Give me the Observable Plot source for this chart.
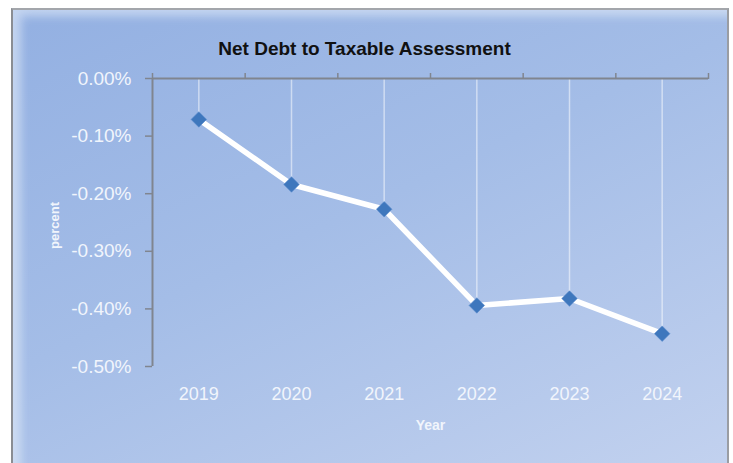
<!DOCTYPE html>
<html>
<head>
<meta charset="utf-8">
<script src="https://cdn.jsdelivr.net/npm/d3@7"></script>
<script src="https://cdn.jsdelivr.net/npm/@observablehq/plot@0.6"></script>
<style>
  html, body { margin: 0; padding: 0; background: #ffffff; }
  #wrap { position: relative; width: 733px; height: 463px; overflow: hidden; }
  #frame {
    position: absolute; left: 11px; top: 8px; width: 714px; height: 470px;
    border-left: 2px solid #8a8d93; border-top: 2px solid #a3a6ab; border-right: 2px solid #9a9da3;
    background: linear-gradient(155deg, #93b0e2 0%, #a4bde7 45%, #c3d2ef 100%);
    box-shadow: inset 12px 10px 10px -4px rgba(235,242,252,0.55);
  }
  #chart { position: absolute; left: 0; top: 0; }
</style>
</head>
<body>
<div id="wrap"><div id="frame"></div><div id="chart"></div></div>
<script>
const title = "Net Debt to Taxable Assessment";
const years = [2019, 2020, 2021, 2022, 2023, 2024];
const values = [-0.071, -0.184, -0.227, -0.394, -0.382, -0.443]; // percent
const yTicks = [0, -0.1, -0.2, -0.3, -0.4, -0.5];
const xTitle = "Year";
const yTitle = "percent";

const data = years.map((year, i) => ({year, value: values[i]}));
const xDomain = [years[0] - 0.5, years[years.length - 1] + 0.5];
const bounds = d3.range(xDomain[0], xDomain[1] + 0.01, 1);

const axisGray = "#80858f";
const textColor = "#f1f5fc";

const plot = Plot.plot({
  width: 733,
  height: 463,
  marginTop: 78,
  marginBottom: 97,
  marginLeft: 152,
  marginRight: 25,
  style: {background: "transparent", fontFamily: "Liberation Sans, Arial, sans-serif", fontSize: "18px", overflow: "visible"},
  x: {type: "linear", domain: xDomain},
  y: {domain: [-0.5, 0]},
  marks: [
    Plot.ruleX(data, {x: "year", y1: 0, y2: "value", stroke: "#ffffff", strokeOpacity: 0.5, strokeWidth: 1.5}),
    Plot.ruleY([0], {stroke: axisGray, strokeWidth: 2}),
    Plot.ruleX([xDomain[0]], {stroke: axisGray, strokeWidth: 2}),
    Plot.axisX({anchor: "top", ticks: bounds, tickFormat: () => "", tickSize: 6, stroke: axisGray, strokeWidth: 1.5, label: null}),
    Plot.axisX({anchor: "bottom", ticks: years, tickFormat: d => String(d), tickSize: 0, tickPadding: 21, fill: textColor, fontSize: 18, label: null}),
    Plot.axisY({ticks: yTicks, tickFormat: d => (Math.abs(d) < 1e-9 ? 0 : d).toFixed(2) + "%", tickSize: 7, tickPadding: 14, stroke: axisGray, strokeWidth: 1.5, fill: textColor, fontSize: 19, label: null}),
    Plot.line(data, {x: "year", y: "value", stroke: "#ffffff", strokeWidth: 5.5, strokeLinejoin: "round"}),
    Plot.dot(data, {x: "year", y: "value", symbol: "diamond2", r: 7, fill: "#3e77bd", stroke: "#5a8ccc", strokeWidth: 0.6}),
    Plot.text([title], {frameAnchor: "top", dx: -66, dy: -37, fontWeight: "bold", fontSize: 19, fill: "#111111"}),
    Plot.text([yTitle], {frameAnchor: "left", textAnchor: "middle", dx: -98, dy: 3, rotate: -90, fontWeight: "bold", fontSize: 13, fill: textColor}),
    Plot.text([xTitle], {frameAnchor: "bottom", dy: 63, fontWeight: "bold", fontSize: 14, fill: textColor})
  ]
});
document.getElementById("chart").appendChild(plot);
</script>
</body>
</html>
